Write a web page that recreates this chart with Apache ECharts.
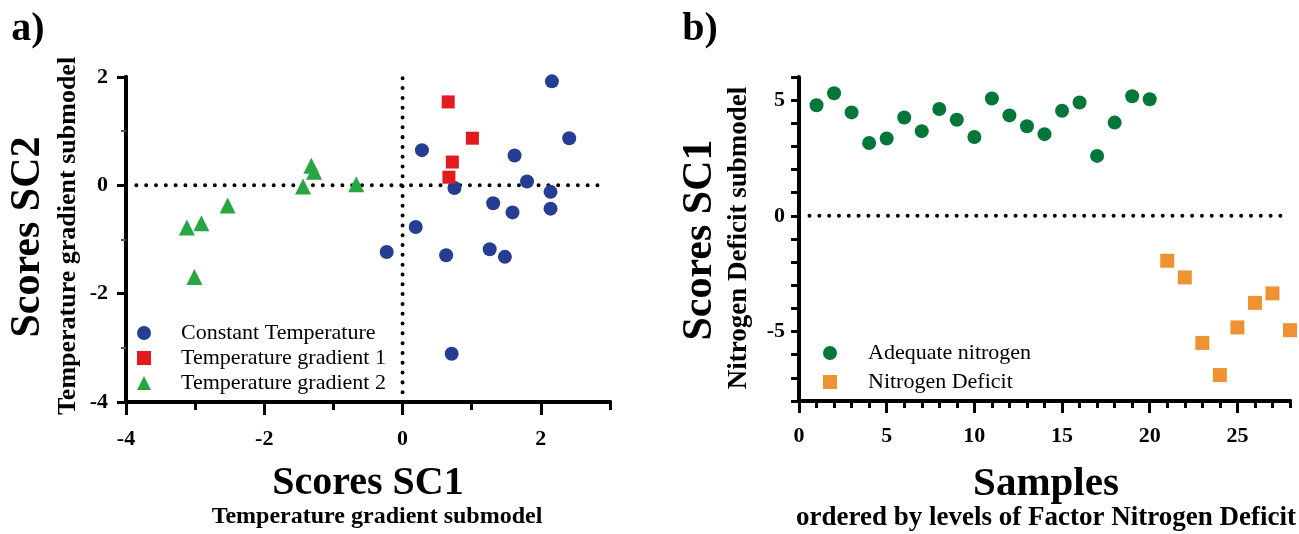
<!DOCTYPE html>
<html>
<head>
<meta charset="utf-8">
<script src="https://cdn.jsdelivr.net/npm/echarts@6/dist/echarts.min.js"></script>
<style>
  html, body { margin: 0; padding: 0; background: #fff; }
  #chart { width: 1299px; height: 534px; }
</style>
</head>
<body>
<div id="chart"></div>
<script>
  // panel a) - temperature gradient submodel scores
  const constantSC1 = [2.16, 2.41, 0.28, 1.62, 1.80, 0.75, 2.14, 2.14, 1.31, 1.59, 0.19, -0.23, 0.63, 1.26, 1.48, 0.71]
  const constantSC2 = [1.92, 0.87, 0.65, 0.55, 0.07, -0.05, -0.12, -0.43, -0.33, -0.50, -0.77, -1.23, -1.29, -1.18, -1.32, -3.11]
  const gradient1SC1 = [0.66, 1.01, 0.72, 0.67]
  const gradient1SC2 = [1.54, 0.87, 0.43, 0.15]
  const gradient2SC1 = [-1.32, -1.28, -1.44, -0.67, -2.53, -2.91, -3.12, -3.01]
  const gradient2SC2 = [0.36, 0.25, -0.02, 0.02, -0.37, -0.70, -0.78, -1.69]

  // panel b) - nitrogen deficit submodel scores
  const adequateSamples = [1, 2, 3, 4, 5, 6, 7, 8, 9, 10, 11, 12, 13, 14, 15, 16, 17, 18, 19, 20]
  const adequateSC1 = [4.78, 5.30, 4.47, 3.15, 3.34, 4.25, 3.66, 4.62, 4.15, 3.41, 5.07, 4.34, 3.87, 3.53, 4.54, 4.90, 2.59, 4.03, 5.17, 5.04]
  const deficitSamples = [21, 22, 23, 24, 25, 26, 27, 28]
  const deficitSC1 = [-1.94, -2.66, -5.49, -6.88, -4.82, -3.76, -3.35, -4.94]

  // dotted zero lines
  const zeroLineA_h = [[-3.85, 0], [2.86, 0]]
  const zeroLineA_v = [[0, -4], [0, 2]]
  const zeroLineB_h = [[0.6, 0], [27.6, 0]]

  const majorTicksAX = [-4, -2, 0, 2]
  const majorTicksAY = [-4, -2, 0, 2]
  const majorTicksBX = [0, 5, 10, 15, 20, 25]

  const FONT = '"Liberation Serif", "Times New Roman", serif'
  const zip = (xs, ys) => xs.map((x, i) => [x, ys[i]])

  const chart = echarts.init(document.getElementById('chart'))

  const tickLabel = {
    color: '#000',
    fontFamily: FONT,
    fontWeight: 'bold',
    fontSize: 22
  }

  function axis(gridIndex, min, max, position, opts) {
    return {
      gridIndex: gridIndex,
      type: 'value',
      min: min,
      max: max,
      interval: 1,
      position: position,
      axisLine: { show: true, onZero: false, lineStyle: { color: '#000', width: 4 } },
      axisTick: Object.assign({ show: true, inside: false, lineStyle: { color: '#000', width: 3 } }, opts.tick),
      axisLabel: Object.assign({ margin: opts.margin, formatter: opts.formatter }, tickLabel),
      splitLine: { show: false }
    }
  }

  // second axis on the same grid, only there to draw the longer major ticks
  function majorAxis(gridIndex, min, max, position, ticks, len) {
    return {
      gridIndex: gridIndex,
      type: 'value',
      min: min,
      max: max,
      interval: 1,
      position: position,
      axisLine: { show: true, onZero: false, lineStyle: { color: '#000', width: 4 } },
      axisLabel: { show: false },
      splitLine: { show: false },
      axisTick: { show: true, inside: false, customValues: ticks, length: len, lineStyle: { color: '#000', width: 3 } }
    }
  }

  function dotted(data, xi, yi) {
    return {
      type: 'line',
      xAxisIndex: xi,
      yAxisIndex: yi,
      data: data,
      symbol: 'none',
      silent: true,
      z: 1,
      lineStyle: { color: '#000', width: 4, type: [0.01, 9.8], cap: 'round' }
    }
  }

  function titleText(text, x, y, size, rotate) {
    return {
      type: 'text',
      x: x,
      y: y,
      rotation: rotate ? Math.PI / 2 : 0,
      style: {
        text: text,
        font: 'bold ' + size + 'px ' + FONT,
        fill: '#000',
        textAlign: 'center',
        textVerticalAlign: 'middle',
        align: 'center',
        verticalAlign: 'middle'
      }
    }
  }

  chart.setOption({
    animation: false,
    backgroundColor: '#fff',
    grid: [
      { left: 126, top: 77, width: 484, height: 325 },
      { left: 799, top: 77, width: 491, height: 324 }
    ],
    xAxis: [
      axis(0, -4, 3, 'bottom', {
        tick: { length: 8 }, margin: 26,
        formatter: v => (v % 2 === 0 ? String(v) : '')
      }),
      axis(1, 0, 28, 'bottom', {
        tick: { length: 7 }, margin: 24,
        formatter: v => (v % 5 === 0 ? String(v) : '')
      }),
      majorAxis(0, -4, 3, 'bottom', majorTicksAX, 13),
      majorAxis(1, 0, 28, 'bottom', majorTicksBX, 12)
    ],
    yAxis: [
      axis(0, -4, 2, 'left', {
        tick: { length: 5, lineStyle: { color: '#555', width: 2 } }, margin: 18,
        formatter: v => (v % 2 === 0 ? String(v) : '')
      }),
      axis(1, -8, 6, 'left', {
        tick: { length: 8 }, margin: 14,
        formatter: v => (v % 5 === 0 ? String(v) : '')
      }),
      majorAxis(0, -4, 2, 'left', majorTicksAY, 9)
    ],
    legend: [
      {
        orient: 'vertical', left: 137, top: 322, padding: 0,
        itemWidth: 14, itemHeight: 14, itemGap: 3,
        data: ['Constant Temperature', 'Temperature gradient 1', 'Temperature gradient 2'],
        textStyle: { color: '#000', fontFamily: FONT, fontSize: 22, lineHeight: 22, padding: [0, 0, 0, 25] }
      },
      {
        orient: 'vertical', left: 823, top: 342, padding: 0,
        itemWidth: 14, itemHeight: 14, itemGap: 7,
        data: ['Adequate nitrogen', 'Nitrogen Deficit'],
        textStyle: { color: '#000', fontFamily: FONT, fontSize: 22, lineHeight: 22, padding: [0, 0, 0, 26] }
      }
    ],
    series: [
      dotted(zeroLineA_h, 0, 0),
      dotted(zeroLineA_v, 0, 0),
      dotted(zeroLineB_h, 1, 1),
      {
        name: 'Constant Temperature', type: 'scatter', xAxisIndex: 0, yAxisIndex: 0,
        symbol: 'circle', symbolSize: 14, z: 3,
        itemStyle: { color: '#263d94', opacity: 1 },
        data: zip(constantSC1, constantSC2)
      },
      {
        name: 'Temperature gradient 1', type: 'scatter', xAxisIndex: 0, yAxisIndex: 0,
        symbol: 'rect', symbolSize: 13, z: 3,
        itemStyle: { color: '#e31b1e', opacity: 1 },
        data: zip(gradient1SC1, gradient1SC2)
      },
      {
        name: 'Temperature gradient 2', type: 'scatter', xAxisIndex: 0, yAxisIndex: 0,
        symbol: 'triangle', symbolSize: 16, z: 3,
        itemStyle: { color: '#27a644', opacity: 1 },
        data: zip(gradient2SC1, gradient2SC2)
      },
      {
        name: 'Adequate nitrogen', type: 'scatter', xAxisIndex: 1, yAxisIndex: 1,
        symbol: 'circle', symbolSize: 14, z: 3,
        itemStyle: { color: '#03773a', opacity: 1 },
        data: zip(adequateSamples, adequateSC1)
      },
      {
        name: 'Nitrogen Deficit', type: 'scatter', xAxisIndex: 1, yAxisIndex: 1,
        symbol: 'rect', symbolSize: 14, z: 3,
        itemStyle: { color: '#ee9232', opacity: 1 },
        data: zip(deficitSamples, deficitSC1)
      }
    ],
    graphic: [
      titleText('a)', 28, 30, 40, false),
      titleText('b)', 700, 30, 40, false),
      titleText('Scores SC1', 368, 484, 40, false),
      titleText('Temperature gradient submodel', 377, 517, 24, false),
      titleText('Scores SC2', 28, 237, 42, true),
      titleText('Temperature gradient submodel', 68, 236, 26, true),
      titleText('Samples', 1046, 484, 41, false),
      titleText('ordered by levels of Factor Nitrogen Deficit', 1046, 518, 27, false),
      titleText('Scores SC1', 700, 240, 42, true),
      titleText('Nitrogen Deficit submodel', 739, 238, 27, true)
    ]
  })
</script>
</body>
</html>
